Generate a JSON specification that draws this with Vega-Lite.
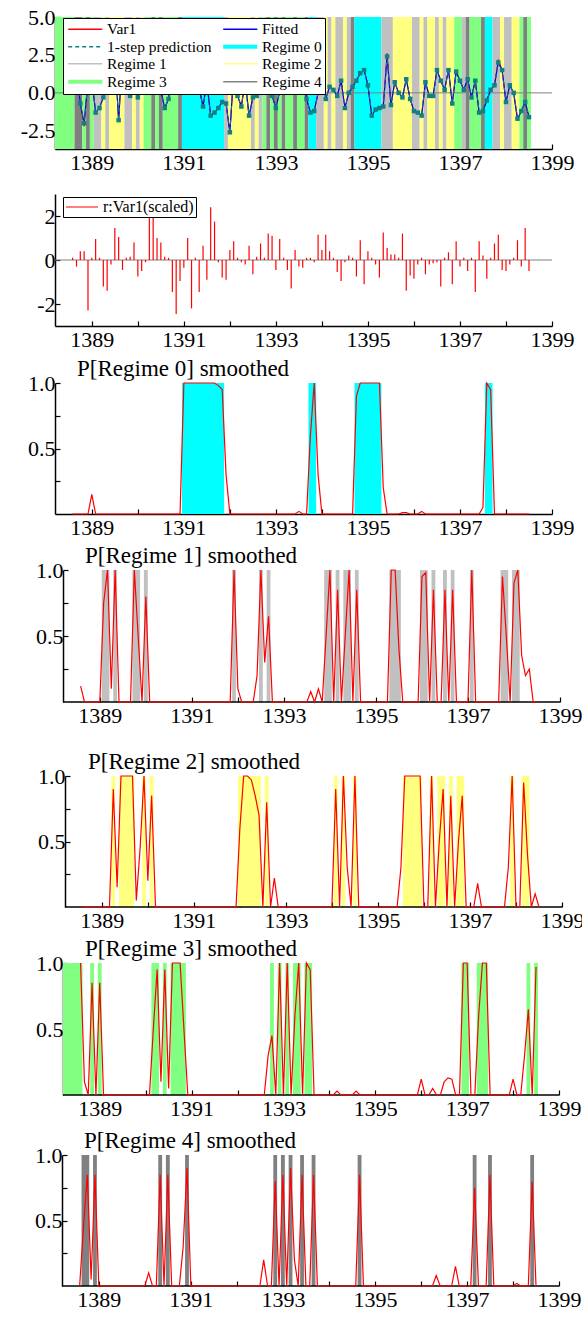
{
"$schema": "https://vega.github.io/schema/vega-lite/v6.json",
"padding": {"left": 0, "top": 6, "right": 0, "bottom": 0},
"background": "white",
"config": {
 "view": {"stroke": null},
 "font": "Liberation Serif",
 "axis": {"grid": false, "labelFont": "Liberation Serif", "labelFontSize": 22, "labelColor": "black", "domainColor": "black", "domainWidth": 1.5, "tickColor": "black", "tickWidth": 1.2, "tickSize": -5, "labelOverlap": false, "labelFlush": false, "labelBound": false},
 "axisX": {"labelPadding": 8},
 "axisY": {"labelPadding": 5},
 "title": {"anchor": "start", "frame": "group", "dx": 22, "offset": -9, "baseline": "bottom", "fontSize": 23, "fontWeight": "normal", "font": "Liberation Serif", "color": "black"}
},
"datasets": {
"obs": [
{"t":1388.583,"y":0.7,"f":0.7,"r":0.1,"p0":0,"p1":0.12,"p2":0,"p3":1,"p4":0},
{"t":1388.667,"y":1.6,"f":1.5,"r":-0.3,"p0":0,"p1":0,"p2":0,"p3":0.1,"p4":0.45},
{"t":1388.75,"y":-0.8,"f":-0.7,"r":0.4,"p0":0,"p1":0,"p2":0,"p3":0,"p4":0.85},
{"t":1388.833,"y":-2.2,"f":-2.0,"r":0.4,"p0":0,"p1":0,"p2":0,"p3":0.85,"p4":0.05},
{"t":1388.917,"y":0.8,"f":0.8,"r":-2.3,"p0":0,"p1":0,"p2":0,"p3":0,"p4":0.85},
{"t":1389,"y":0.9,"f":0.9,"r":0.1,"p0":0.15,"p1":0,"p2":0,"p3":0.85,"p4":0},
{"t":1389.083,"y":-1.3,"f":-1.3,"r":0.95,"p0":0,"p1":0.75,"p2":0,"p3":0,"p4":0},
{"t":1389.167,"y":-1.0,"f":-1.0,"r":0.1,"p0":0,"p1":1,"p2":0,"p3":0,"p4":0},
{"t":1389.25,"y":-0.3,"f":-0.3,"r":-1.2,"p0":0,"p1":0.1,"p2":0.9,"p3":0,"p4":0},
{"t":1389.333,"y":0.5,"f":0.4,"r":-1.4,"p0":0,"p1":1,"p2":0.15,"p3":0,"p4":0},
{"t":1389.417,"y":3.7,"f":3.6,"r":-0.2,"p0":0,"p1":0,"p2":1,"p3":0,"p4":0},
{"t":1389.5,"y":2.6,"f":2.6,"r":1.45,"p0":0,"p1":0,"p2":1,"p3":0,"p4":0},
{"t":1389.583,"y":-1.9,"f":-1.8,"r":1.05,"p0":0,"p1":0,"p2":1,"p3":0,"p4":0},
{"t":1389.667,"y":2.7,"f":2.6,"r":-0.45,"p0":0,"p1":0,"p2":1,"p3":0,"p4":0},
{"t":1389.75,"y":0.5,"f":0.5,"r":0.1,"p0":0,"p1":1,"p2":0.05,"p3":0,"p4":0},
{"t":1389.833,"y":-0.2,"f":-0.2,"r":0.15,"p0":0,"p1":0.5,"p2":0.45,"p3":0,"p4":0},
{"t":1389.917,"y":0.6,"f":0.6,"r":0.8,"p0":0,"p1":0,"p2":1,"p3":0,"p4":0},
{"t":1390,"y":-0.3,"f":-0.3,"r":-0.75,"p0":0,"p1":0.8,"p2":0.2,"p3":0,"p4":0},
{"t":1390.083,"y":0.8,"f":0.8,"r":-0.5,"p0":0,"p1":0,"p2":0.85,"p3":0,"p4":0.1},
{"t":1390.167,"y":1.3,"f":1.3,"r":-0.1,"p0":0,"p1":0,"p2":0,"p3":0.5,"p4":0},
{"t":1390.25,"y":1.4,"f":1.4,"r":2.0,"p0":0,"p1":0,"p2":0,"p3":0.95,"p4":0},
{"t":1390.333,"y":1.3,"f":1.3,"r":2.3,"p0":0,"p1":0,"p2":0,"p3":0.1,"p4":0.85},
{"t":1390.417,"y":0.6,"f":0.6,"r":1.0,"p0":0,"p1":0,"p2":0,"p3":0.95,"p4":0},
{"t":1390.5,"y":0.2,"f":0.2,"r":0.8,"p0":0,"p1":0,"p2":0,"p3":0.05,"p4":0.85},
{"t":1390.583,"y":-1.1,"f":-1.0,"r":0.15,"p0":0,"p1":0,"p2":0,"p3":1,"p4":0},
{"t":1390.667,"y":-0.4,"f":-0.4,"r":0.1,"p0":0,"p1":0,"p2":0,"p3":1,"p4":0},
{"t":1390.75,"y":1.4,"f":1.4,"r":-1.45,"p0":0,"p1":0,"p2":0,"p3":1,"p4":0},
{"t":1390.833,"y":1.2,"f":1.2,"r":-2.45,"p0":0,"p1":0,"p2":0,"p3":0.5,"p4":0.3},
{"t":1390.917,"y":1.6,"f":1.6,"r":-0.95,"p0":0,"p1":0,"p2":0,"p3":0,"p4":0.9},
{"t":1391,"y":0.4,"f":0.4,"r":-0.35,"p0":1,"p1":0,"p2":0,"p3":0,"p4":0},
{"t":1391.083,"y":0.9,"f":0.9,"r":1.0,"p0":1,"p1":0,"p2":0,"p3":0,"p4":0},
{"t":1391.167,"y":0.9,"f":0.9,"r":-2.2,"p0":1,"p1":0,"p2":0,"p3":0,"p4":0},
{"t":1391.25,"y":0.1,"f":0.1,"r":0.1,"p0":1,"p1":0,"p2":0,"p3":0,"p4":0},
{"t":1391.333,"y":0.3,"f":0.3,"r":-1.45,"p0":1,"p1":0,"p2":0,"p3":0,"p4":0},
{"t":1391.417,"y":-0.9,"f":-0.9,"r":0.65,"p0":1,"p1":0,"p2":0,"p3":0,"p4":0},
{"t":1391.5,"y":0.7,"f":0.7,"r":-0.9,"p0":1,"p1":0,"p2":0,"p3":0,"p4":0},
{"t":1391.583,"y":-1.5,"f":-1.5,"r":2.4,"p0":1,"p1":0,"p2":0,"p3":0,"p4":0},
{"t":1391.667,"y":-1.3,"f":-1.3,"r":1.75,"p0":1,"p1":0,"p2":0,"p3":0,"p4":0},
{"t":1391.75,"y":-1.0,"f":-1.0,"r":-0.1,"p0":0.98,"p1":0,"p2":0,"p3":0,"p4":0},
{"t":1391.833,"y":-0.6,"f":-0.6,"r":-0.8,"p0":0.95,"p1":0,"p2":0,"p3":0,"p4":0},
{"t":1391.917,"y":-0.7,"f":-0.7,"r":-0.9,"p0":0.3,"p1":1,"p2":0,"p3":0,"p4":0},
{"t":1392,"y":-2.7,"f":-2.6,"r":0.45,"p0":0,"p1":0.1,"p2":0.6,"p3":0,"p4":0},
{"t":1392.083,"y":1.4,"f":1.3,"r":0.85,"p0":0,"p1":0,"p2":1,"p3":0,"p4":0},
{"t":1392.167,"y":-0.2,"f":-0.2,"r":0.1,"p0":0,"p1":0,"p2":1,"p3":0,"p4":0},
{"t":1392.25,"y":-0.9,"f":-0.9,"r":-0.1,"p0":0,"p1":0,"p2":0.97,"p3":0,"p4":0},
{"t":1392.333,"y":0.8,"f":0.8,"r":-0.2,"p0":0,"p1":0,"p2":0.85,"p3":0,"p4":0},
{"t":1392.417,"y":-1.6,"f":-1.5,"r":0.65,"p0":0,"p1":0.2,"p2":0.7,"p3":0,"p4":0},
{"t":1392.5,"y":-0.3,"f":-0.3,"r":-0.65,"p0":0,"p1":1,"p2":0,"p3":0,"p4":0},
{"t":1392.583,"y":-0.2,"f":-0.2,"r":0.15,"p0":0,"p1":0.3,"p2":0.8,"p3":0,"p4":0.2},
{"t":1392.667,"y":0.1,"f":0.1,"r":0.75,"p0":0,"p1":0.65,"p2":0,"p3":0.3,"p4":0},
{"t":1392.75,"y":0.2,"f":0.2,"r":0.1,"p0":0,"p1":0,"p2":0.22,"p3":0.45,"p4":0},
{"t":1392.833,"y":0.7,"f":0.7,"r":1.2,"p0":0,"p1":0,"p2":0,"p3":0,"p4":0.8},
{"t":1392.917,"y":-0.2,"f":-0.2,"r":1.1,"p0":0,"p1":0,"p2":0,"p3":1,"p4":0},
{"t":1393,"y":-1.0,"f":-1.0,"r":-0.45,"p0":0,"p1":0,"p2":0,"p3":0,"p4":0.85},
{"t":1393.083,"y":0.1,"f":0.1,"r":0.95,"p0":0,"p1":0,"p2":0,"p3":1,"p4":0},
{"t":1393.167,"y":0.8,"f":0.8,"r":0.1,"p0":0,"p1":0,"p2":0,"p3":0,"p4":0.9},
{"t":1393.25,"y":1.2,"f":1.2,"r":-0.45,"p0":0,"p1":0,"p2":0,"p3":0.6,"p4":0.2},
{"t":1393.333,"y":1.0,"f":1.0,"r":-1.3,"p0":0,"p1":0,"p2":0,"p3":1,"p4":0},
{"t":1393.417,"y":0.5,"f":0.5,"r":0.45,"p0":0,"p1":0,"p2":0,"p3":0,"p4":0.85},
{"t":1393.5,"y":1.0,"f":1.0,"r":-0.3,"p0":0.02,"p1":0,"p2":0,"p3":1,"p4":0},
{"t":1393.583,"y":0.8,"f":0.8,"r":-0.35,"p0":0,"p1":0.08,"p2":0,"p3":0.95,"p4":0},
{"t":1393.667,"y":-0.4,"f":-0.4,"r":0.1,"p0":0,"p1":0,"p2":0,"p3":0,"p4":0.85},
{"t":1393.75,"y":-1.3,"f":-1.3,"r":0.1,"p0":0.6,"p1":0.1,"p2":0,"p3":0,"p4":0},
{"t":1393.833,"y":-1.2,"f":-1.2,"r":-0.1,"p0":1,"p1":0,"p2":0,"p3":0,"p4":0},
{"t":1393.917,"y":0.0,"f":0.0,"r":1.15,"p0":0.3,"p1":0.5,"p2":0,"p3":0,"p4":0},
{"t":1394,"y":1.4,"f":1.4,"r":0.45,"p0":0,"p1":1,"p2":0,"p3":0,"p4":0},
{"t":1394.083,"y":-0.4,"f":-0.4,"r":1.15,"p0":0,"p1":0,"p2":0.9,"p3":0,"p4":0},
{"t":1394.167,"y":0.4,"f":0.4,"r":0.4,"p0":0,"p1":0.85,"p2":0,"p3":0.03,"p4":0},
{"t":1394.25,"y":0.2,"f":0.2,"r":0.1,"p0":0,"p1":0,"p2":1,"p3":0,"p4":0},
{"t":1394.333,"y":-0.2,"f":-0.2,"r":-0.55,"p0":0,"p1":0.5,"p2":0.3,"p3":0,"p4":0},
{"t":1394.417,"y":0.8,"f":0.8,"r":-0.95,"p0":0,"p1":1,"p2":0,"p3":0,"p4":0},
{"t":1394.5,"y":-1.0,"f":-1.0,"r":-0.1,"p0":0,"p1":0,"p2":1,"p3":0,"p4":0},
{"t":1394.583,"y":0.0,"f":0.0,"r":0.2,"p0":0,"p1":0.85,"p2":0,"p3":0.03,"p4":0},
{"t":1394.667,"y":0.4,"f":0.4,"r":0.1,"p0":0,"p1":0,"p2":0,"p3":0,"p4":0.85},
{"t":1394.75,"y":0.8,"f":0.8,"r":-0.75,"p0":0.9,"p1":0,"p2":0,"p3":0,"p4":0},
{"t":1394.833,"y":1.3,"f":1.3,"r":0.9,"p0":1,"p1":0,"p2":0,"p3":0,"p4":0},
{"t":1394.917,"y":1.5,"f":1.5,"r":-1.1,"p0":1,"p1":0,"p2":0,"p3":0,"p4":0},
{"t":1395,"y":0.5,"f":0.5,"r":0.4,"p0":1,"p1":0,"p2":0,"p3":0,"p4":0},
{"t":1395.083,"y":-1.5,"f":-1.5,"r":0.1,"p0":1,"p1":0,"p2":0,"p3":0,"p4":0},
{"t":1395.167,"y":-1.1,"f":-1.1,"r":-0.2,"p0":1,"p1":0,"p2":0,"p3":0,"p4":0},
{"t":1395.25,"y":-1.0,"f":-1.0,"r":-0.8,"p0":1,"p1":0,"p2":0,"p3":0,"p4":0},
{"t":1395.333,"y":-0.9,"f":-0.9,"r":1.25,"p0":0.2,"p1":1,"p2":0,"p3":0,"p4":0},
{"t":1395.417,"y":2.6,"f":2.4,"r":0.55,"p0":0,"p1":1,"p2":0,"p3":0,"p4":0},
{"t":1395.5,"y":-0.8,"f":-0.8,"r":0.25,"p0":0,"p1":0.4,"p2":0.3,"p3":0,"p4":0},
{"t":1395.583,"y":0.7,"f":0.7,"r":0.25,"p0":0,"p1":0,"p2":1,"p3":0,"p4":0},
{"t":1395.667,"y":0.0,"f":0.0,"r":0.1,"p0":0,"p1":0,"p2":1,"p3":0,"p4":0},
{"t":1395.75,"y":-0.3,"f":-0.3,"r":1.2,"p0":0.01,"p1":0,"p2":1,"p3":0,"p4":0},
{"t":1395.833,"y":0.9,"f":0.9,"r":-1.4,"p0":0.01,"p1":0,"p2":1,"p3":0,"p4":0},
{"t":1395.917,"y":-0.4,"f":-0.4,"r":-0.7,"p0":0,"p1":0,"p2":1,"p3":0,"p4":0},
{"t":1396,"y":-1.2,"f":-1.2,"r":-0.85,"p0":0,"p1":0.95,"p2":0,"p3":0.12,"p4":0},
{"t":1396.083,"y":-1.3,"f":-1.3,"r":-0.2,"p0":0,"p1":0.98,"p2":0,"p3":0,"p4":0},
{"t":1396.167,"y":-1.5,"f":-1.5,"r":0.1,"p0":0.02,"p1":0,"p2":1,"p3":0,"p4":0},
{"t":1396.25,"y":0.7,"f":0.7,"r":-0.65,"p0":0,"p1":0.85,"p2":0,"p3":0.05,"p4":0},
{"t":1396.333,"y":-0.2,"f":-0.2,"r":-0.2,"p0":0,"p1":0,"p2":0.5,"p3":0,"p4":0.08},
{"t":1396.417,"y":-0.2,"f":-0.2,"r":-0.15,"p0":0,"p1":0,"p2":0.9,"p3":0,"p4":0},
{"t":1396.5,"y":1.5,"f":1.5,"r":-0.1,"p0":0,"p1":0.85,"p2":0,"p3":0.1,"p4":0},
{"t":1396.583,"y":0.8,"f":0.8,"r":-1.2,"p0":0,"p1":0,"p2":0.85,"p3":0.13,"p4":0},
{"t":1396.667,"y":0.2,"f":0.2,"r":0.1,"p0":0,"p1":0.85,"p2":0,"p3":0.12,"p4":0},
{"t":1396.75,"y":1.6,"f":1.5,"r":0.35,"p0":0,"p1":0,"p2":0.5,"p3":0,"p4":0.15},
{"t":1396.833,"y":-0.7,"f":-0.7,"r":-1.1,"p0":0,"p1":0,"p2":0.85,"p3":0,"p4":0},
{"t":1396.917,"y":1.4,"f":1.4,"r":0.85,"p0":0,"p1":0,"p2":0,"p3":1,"p4":0},
{"t":1397,"y":0.8,"f":0.8,"r":-0.3,"p0":0,"p1":0,"p2":0,"p3":1,"p4":0},
{"t":1397.083,"y":0.2,"f":0.2,"r":0.1,"p0":0,"p1":1,"p2":0,"p3":0,"p4":0},
{"t":1397.167,"y":0.9,"f":0.9,"r":-0.5,"p0":0,"p1":0,"p2":0.18,"p3":0,"p4":0.75},
{"t":1397.25,"y":-0.3,"f":-0.3,"r":0.1,"p0":0,"p1":0,"p2":0,"p3":0.6,"p4":0},
{"t":1397.333,"y":0.8,"f":0.8,"r":-1.45,"p0":0,"p1":0,"p2":0,"p3":1,"p4":0},
{"t":1397.417,"y":-1.3,"f":-1.3,"r":0.85,"p0":0,"p1":0,"p2":0,"p3":1,"p4":0},
{"t":1397.5,"y":-1.2,"f":-1.2,"r":0.2,"p0":0.05,"p1":0,"p2":0,"p3":0,"p4":0.85},
{"t":1397.583,"y":-0.5,"f":-0.5,"r":-0.85,"p0":1,"p1":0,"p2":0,"p3":0,"p4":0},
{"t":1397.667,"y":0.2,"f":0.2,"r":0.1,"p0":0.95,"p1":0,"p2":0,"p3":0,"p4":0},
{"t":1397.75,"y":0.5,"f":0.5,"r":0.75,"p0":0,"p1":0.95,"p2":0,"p3":0,"p4":0},
{"t":1397.833,"y":2.2,"f":2.0,"r":1.15,"p0":0,"p1":0.5,"p2":0.3,"p3":0,"p4":0},
{"t":1397.917,"y":1.5,"f":1.5,"r":-0.45,"p0":0,"p1":0,"p2":1,"p3":0,"p4":0},
{"t":1398,"y":-0.6,"f":-0.6,"r":-0.5,"p0":0,"p1":0.9,"p2":0,"p3":0.12,"p4":0},
{"t":1398.083,"y":0.5,"f":0.5,"r":-0.2,"p0":0,"p1":1,"p2":0,"p3":0,"p4":0.02},
{"t":1398.167,"y":0.0,"f":0.0,"r":0.1,"p0":0,"p1":0.35,"p2":0.95,"p3":0,"p4":0},
{"t":1398.25,"y":-1.8,"f":-1.7,"r":0.9,"p0":0,"p1":0.2,"p2":0.4,"p3":0.3,"p4":0},
{"t":1398.333,"y":-1.2,"f":-1.2,"r":-0.3,"p0":0,"p1":0.25,"p2":0,"p3":0.65,"p4":0},
{"t":1398.417,"y":-0.6,"f":-0.6,"r":1.45,"p0":0,"p1":0,"p2":0.1,"p3":0,"p4":0.8},
{"t":1398.5,"y":-1.6,"f":-1.6,"r":-0.5,"p0":0,"p1":0,"p2":0,"p3":0.97,"p4":0}
],
"runs": [
{"s":1388.2,"e":1388.625,"reg":"Regime 3"},
{"s":1388.625,"e":1388.792,"reg":"Regime 4"},
{"s":1388.792,"e":1388.875,"reg":"Regime 3"},
{"s":1388.875,"e":1388.958,"reg":"Regime 4"},
{"s":1388.958,"e":1389.042,"reg":"Regime 3"},
{"s":1389.042,"e":1389.208,"reg":"Regime 1"},
{"s":1389.208,"e":1389.292,"reg":"Regime 2"},
{"s":1389.292,"e":1389.375,"reg":"Regime 1"},
{"s":1389.375,"e":1389.708,"reg":"Regime 2"},
{"s":1389.708,"e":1389.875,"reg":"Regime 1"},
{"s":1389.875,"e":1389.958,"reg":"Regime 2"},
{"s":1389.958,"e":1390.042,"reg":"Regime 1"},
{"s":1390.042,"e":1390.125,"reg":"Regime 2"},
{"s":1390.125,"e":1390.292,"reg":"Regime 3"},
{"s":1390.292,"e":1390.375,"reg":"Regime 4"},
{"s":1390.375,"e":1390.458,"reg":"Regime 3"},
{"s":1390.458,"e":1390.542,"reg":"Regime 4"},
{"s":1390.542,"e":1390.875,"reg":"Regime 3"},
{"s":1390.875,"e":1390.958,"reg":"Regime 4"},
{"s":1390.958,"e":1391.875,"reg":"Regime 0"},
{"s":1391.875,"e":1391.958,"reg":"Regime 1"},
{"s":1391.958,"e":1392.458,"reg":"Regime 2"},
{"s":1392.458,"e":1392.542,"reg":"Regime 1"},
{"s":1392.542,"e":1392.625,"reg":"Regime 2"},
{"s":1392.625,"e":1392.708,"reg":"Regime 1"},
{"s":1392.708,"e":1392.792,"reg":"Regime 3"},
{"s":1392.792,"e":1392.875,"reg":"Regime 4"},
{"s":1392.875,"e":1392.958,"reg":"Regime 3"},
{"s":1392.958,"e":1393.042,"reg":"Regime 4"},
{"s":1393.042,"e":1393.125,"reg":"Regime 3"},
{"s":1393.125,"e":1393.208,"reg":"Regime 4"},
{"s":1393.208,"e":1393.375,"reg":"Regime 3"},
{"s":1393.375,"e":1393.458,"reg":"Regime 4"},
{"s":1393.458,"e":1393.625,"reg":"Regime 3"},
{"s":1393.625,"e":1393.708,"reg":"Regime 4"},
{"s":1393.708,"e":1393.875,"reg":"Regime 0"},
{"s":1393.875,"e":1394.042,"reg":"Regime 1"},
{"s":1394.042,"e":1394.125,"reg":"Regime 2"},
{"s":1394.125,"e":1394.208,"reg":"Regime 1"},
{"s":1394.208,"e":1394.292,"reg":"Regime 2"},
{"s":1394.292,"e":1394.458,"reg":"Regime 1"},
{"s":1394.458,"e":1394.542,"reg":"Regime 2"},
{"s":1394.542,"e":1394.625,"reg":"Regime 1"},
{"s":1394.625,"e":1394.708,"reg":"Regime 4"},
{"s":1394.708,"e":1395.292,"reg":"Regime 0"},
{"s":1395.292,"e":1395.542,"reg":"Regime 1"},
{"s":1395.542,"e":1395.958,"reg":"Regime 2"},
{"s":1395.958,"e":1396.125,"reg":"Regime 1"},
{"s":1396.125,"e":1396.208,"reg":"Regime 2"},
{"s":1396.208,"e":1396.292,"reg":"Regime 1"},
{"s":1396.292,"e":1396.458,"reg":"Regime 2"},
{"s":1396.458,"e":1396.542,"reg":"Regime 1"},
{"s":1396.542,"e":1396.625,"reg":"Regime 2"},
{"s":1396.625,"e":1396.708,"reg":"Regime 1"},
{"s":1396.708,"e":1396.875,"reg":"Regime 2"},
{"s":1396.875,"e":1397.042,"reg":"Regime 3"},
{"s":1397.042,"e":1397.125,"reg":"Regime 1"},
{"s":1397.125,"e":1397.208,"reg":"Regime 4"},
{"s":1397.208,"e":1397.458,"reg":"Regime 3"},
{"s":1397.458,"e":1397.542,"reg":"Regime 4"},
{"s":1397.542,"e":1397.708,"reg":"Regime 0"},
{"s":1397.708,"e":1397.875,"reg":"Regime 1"},
{"s":1397.875,"e":1397.958,"reg":"Regime 2"},
{"s":1397.958,"e":1398.125,"reg":"Regime 1"},
{"s":1398.125,"e":1398.292,"reg":"Regime 2"},
{"s":1398.292,"e":1398.375,"reg":"Regime 3"},
{"s":1398.375,"e":1398.458,"reg":"Regime 4"},
{"s":1398.458,"e":1398.542,"reg":"Regime 3"}
]
},
"columns": 1,
"spacing": 0,
"bounds": "full",
"resolve": {"scale": {"color": "independent"}, "legend": {"color": "independent"}},
"concat": [
{
 "width": 497, "height": 132,
 "layer": [
  {"data": {"name": "runs"}, "mark": {"type": "rect", "strokeWidth": 0},
   "encoding": {
    "x": {"field": "s", "type": "quantitative", "scale": {"domain": [1388.2, 1399], "nice": false, "zero": false},
          "axis": {"title": null, "values": [1389,1390,1391,1392,1393,1394,1395,1396,1397,1398,1399], "labelExpr": "datum.value % 2 == 1 ? '' + datum.value : ''", "labelDx": -14, "minExtent": 45}},
    "x2": {"field": "e"},
    "y": {"datum": -3.7, "type": "quantitative", "scale": {"domain": [-3.7, 5], "nice": false, "zero": false},
          "axis": {"title": null, "values": [-2.5,-1.25,0,1.25,2.5,3.75,5], "labelExpr": "datum.value % 2.5 == 0 ? replace(format(datum.value, '.1f'), '\u2212', '-') : ''", "minExtent": 55, "maxExtent": 55}},
    "y2": {"datum": 5},
    "color": {"field": "reg", "type": "nominal",
      "scale": {"domain": ["Var1","1-step prediction","Regime 1","Regime 3","Fitted","Regime 0","Regime 2","Regime 4"], "range": ["#ff0000","#108080","#c0c0c0","#80ff80","#0000ff","#00ffff","#ffff80","#808080"]},
      "legend": {"title": null, "orient": "none", "legendX": 8, "legendY": 1, "columns": 2, "symbolType": "M-3.1,0H3.1", "symbolSize": 121, "symbolOffset": 11.5, "symbolStrokeWidth": 1.5, "rowPadding": 0, "columnPadding": 3, "labelOffset": 14, "padding": 3, "labelFont": "Liberation Serif", "labelFontSize": 15.5, "labelColor": "black", "strokeColor": "black", "fillColor": "white", "labelLimit": 300,
        "encode": {"symbols": {"update": {
          "stroke": {"signal": "{'Var1':'#ff0000','Fitted':'#0000ff','1-step prediction':'#108080','Regime 0':'#00ffff','Regime 1':'#c0c0c0','Regime 2':'#ffff80','Regime 3':'#80ff80','Regime 4':'#808080'}[datum.value]"},
          "fill": {"value": "transparent"},
          "strokeWidth": {"signal": "datum.value == 'Regime 0' || datum.value == 'Regime 3' ? 4 : 1.5"},
          "strokeDash": {"signal": "datum.value == '1-step prediction' ? [4, 3] : [1, 0]"},
          "opacity": {"value": 1}}}}}}
   }},
  {"data": {"values": [{}]}, "mark": {"type": "rule", "color": "#808080", "strokeWidth": 1}, "encoding": {"y": {"datum": 0, "type": "quantitative"}}},
  {"data": {"name": "obs"}, "mark": {"type": "line", "strokeWidth": 1}, "encoding": {"x": {"field": "t", "type": "quantitative"}, "y": {"field": "y", "type": "quantitative"}, "color": {"datum": "Var1"}}},
  {"data": {"name": "obs"}, "mark": {"type": "line", "strokeWidth": 1.2}, "encoding": {"x": {"field": "t", "type": "quantitative"}, "y": {"field": "f", "type": "quantitative"}, "color": {"datum": "Fitted"}}},
  {"data": {"name": "obs"}, "mark": {"type": "line", "strokeWidth": 1, "strokeDash": [4, 3], "point": {"shape": "square", "size": 20, "filled": true}}, "encoding": {"x": {"field": "t", "type": "quantitative"}, "y": {"field": "f", "type": "quantitative"}, "color": {"datum": "1-step prediction"}}}
 ]
},
{
 "width": 497, "height": 132,
 "layer": [
  {"data": {"values": [{}]}, "mark": {"type": "rule", "color": "#808080", "strokeWidth": 1},
   "encoding": {"y": {"datum": 0, "type": "quantitative", "scale": {"domain": [-3, 3], "nice": false, "zero": false},
     "axis": {"title": null, "values": [-2,-1,0,1,2,3], "labelExpr": "datum.value % 2 == 0 ? replace(format(datum.value, 'd'), '\u2212', '-') : ''", "minExtent": 55, "maxExtent": 55}}}},
  {"data": {"name": "obs"}, "mark": {"type": "rule", "strokeWidth": 1.2},
   "encoding": {
    "x": {"field": "t", "type": "quantitative", "scale": {"domain": [1388.2, 1399], "nice": false, "zero": false},
          "axis": {"title": null, "values": [1389,1390,1391,1392,1393,1394,1395,1396,1397,1398,1399], "labelExpr": "datum.value % 2 == 1 ? '' + datum.value : ''", "labelDx": -13, "minExtent": 32}},
    "y": {"field": "r", "type": "quantitative"},
    "y2": {"datum": 0},
    "color": {"datum": "r:Var1(scaled)", "scale": {"domain": ["r:Var1(scaled)"], "range": ["#ff0000"]},
      "legend": {"title": null, "orient": "none", "legendX": 8, "legendY": 3, "symbolType": "stroke", "symbolSize": 1024, "symbolStrokeWidth": 1.2, "clipHeight": 16, "labelOffset": 4, "padding": 2, "labelFont": "Liberation Serif", "labelFontSize": 16, "labelColor": "black", "strokeColor": "black", "fillColor": "white"}}
   }}
 ]
},
{
 "width": 497, "height": 131,
 "title": {"text": "P[Regime 0] smoothed"},
 "layer": [
  {"data": {"name": "runs"}, "transform": [{"filter": "datum.reg == 'Regime 0'"}], "mark": {"type": "rect", "color": "#00ffff", "strokeWidth": 0},
   "encoding": {
    "x": {"field": "s", "type": "quantitative", "scale": {"domain": [1388.2, 1399], "nice": false, "zero": false},
          "axis": {"title": null, "values": [1389,1390,1391,1392,1393,1394,1395,1396,1397,1398,1399], "labelExpr": "datum.value % 2 == 1 ? '' + datum.value : ''", "labelDx": -8, "minExtent": 31}},
    "x2": {"field": "e"},
    "y": {"datum": 0, "type": "quantitative", "scale": {"domain": [0, 1], "nice": false, "zero": false},
          "axis": {"title": null, "values": [0.25,0.5,0.75,1], "labelExpr": "datum.value == 0.5 || datum.value == 1 ? format(datum.value, '.1f') : ''", "minExtent": 55, "maxExtent": 55}},
    "y2": {"datum": 1}}},
  {"data": {"name": "obs"}, "mark": {"type": "line", "color": "#ff0000", "strokeWidth": 1.2}, "encoding": {"x": {"field": "t", "type": "quantitative"}, "y": {"field": "p0", "type": "quantitative"}}}
 ]
},
{
 "width": 505, "height": 132,
 "title": {"text": "P[Regime 1] smoothed", "dx": 30},
 "layer": [
  {"data": {"name": "runs"}, "transform": [{"filter": "datum.reg == 'Regime 1'"}], "mark": {"type": "rect", "color": "#c0c0c0", "strokeWidth": 0},
   "encoding": {
    "x": {"field": "s", "type": "quantitative", "scale": {"domain": [1388.026, 1399], "nice": false, "zero": false},
          "axis": {"title": null, "domain": false, "values": [1389,1390,1391,1392,1393,1394,1395,1396,1397,1398,1399], "labelExpr": "datum.value % 2 == 1 ? '' + datum.value : ''", "labelDx": 0, "minExtent": 49}},
    "x2": {"field": "e"},
    "y": {"datum": 0, "type": "quantitative", "scale": {"domain": [0, 1], "nice": false, "zero": false},
          "axis": {"title": null, "offset": -8, "values": [0.25,0.5,0.75,1], "labelExpr": "datum.value == 0.5 || datum.value == 1 ? format(datum.value, '.1f') : ''"}},
    "y2": {"datum": 1}}},
  {"data": {"values": [{}]}, "mark": {"type": "rule", "color": "black", "strokeWidth": 1.5}, "encoding": {"x": {"datum": 1388.2, "type": "quantitative"}, "x2": {"datum": 1399}, "y": {"datum": 0, "type": "quantitative"}}},
  {"data": {"name": "obs"}, "mark": {"type": "line", "color": "#ff0000", "strokeWidth": 1.2}, "encoding": {"x": {"field": "t", "type": "quantitative"}, "y": {"field": "p1", "type": "quantitative"}}}
 ]
},
{
 "width": 507, "height": 131,
 "title": {"text": "P[Regime 2] smoothed", "dx": 33},
 "layer": [
  {"data": {"name": "runs"}, "transform": [{"filter": "datum.reg == 'Regime 2'"}], "mark": {"type": "rect", "color": "#ffff80", "strokeWidth": 0},
   "encoding": {
    "x": {"field": "s", "type": "quantitative", "scale": {"domain": [1387.983, 1399], "nice": false, "zero": false},
          "axis": {"title": null, "domain": false, "values": [1389,1390,1391,1392,1393,1394,1395,1396,1397,1398,1399], "labelExpr": "datum.value % 2 == 1 ? '' + datum.value : ''", "labelDx": -4, "minExtent": 31}},
    "x2": {"field": "e"},
    "y": {"datum": 0, "type": "quantitative", "scale": {"domain": [0, 1], "nice": false, "zero": false},
          "axis": {"title": null, "offset": -10, "values": [0.25,0.5,0.75,1], "labelExpr": "datum.value == 0.5 || datum.value == 1 ? format(datum.value, '.1f') : ''"}},
    "y2": {"datum": 1}}},
  {"data": {"values": [{}]}, "mark": {"type": "rule", "color": "black", "strokeWidth": 1.5}, "encoding": {"x": {"datum": 1388.2, "type": "quantitative"}, "x2": {"datum": 1399}, "y": {"datum": 0, "type": "quantitative"}}},
  {"data": {"name": "obs"}, "mark": {"type": "line", "color": "#ff0000", "strokeWidth": 1.2}, "encoding": {"x": {"field": "t", "type": "quantitative"}, "y": {"field": "p2", "type": "quantitative"}}}
 ]
},
{
 "width": 504, "height": 132,
 "title": {"text": "P[Regime 3] smoothed", "dx": 30},
 "layer": [
  {"data": {"name": "runs"}, "transform": [{"filter": "datum.reg == 'Regime 3'"}], "mark": {"type": "rect", "color": "#80ff80", "strokeWidth": 0},
   "encoding": {
    "x": {"field": "s", "type": "quantitative", "scale": {"domain": [1388.026, 1399], "nice": false, "zero": false},
          "axis": {"title": null, "domain": false, "values": [1389,1390,1391,1392,1393,1394,1395,1396,1397,1398,1399], "labelExpr": "datum.value % 2 == 1 ? '' + datum.value : ''", "labelDx": -6, "minExtent": 35}},
    "x2": {"field": "e"},
    "y": {"datum": 0, "type": "quantitative", "scale": {"domain": [0, 1], "nice": false, "zero": false},
          "axis": {"title": null, "offset": -8, "values": [0.25,0.5,0.75,1], "labelExpr": "datum.value == 0.5 || datum.value == 1 ? format(datum.value, '.1f') : ''"}},
    "y2": {"datum": 1}}},
  {"data": {"values": [{}]}, "mark": {"type": "rule", "color": "black", "strokeWidth": 1.5}, "encoding": {"x": {"datum": 1388.2, "type": "quantitative"}, "x2": {"datum": 1399}, "y": {"datum": 0, "type": "quantitative"}}},
  {"data": {"name": "obs"}, "mark": {"type": "line", "color": "#ff0000", "strokeWidth": 1.2}, "encoding": {"x": {"field": "t", "type": "quantitative"}, "y": {"field": "p3", "type": "quantitative"}}}
 ]
},
{
 "width": 504, "height": 131,
 "title": {"text": "P[Regime 4] smoothed", "dx": 29},
 "layer": [
  {"data": {"name": "runs"}, "transform": [{"filter": "datum.reg == 'Regime 4'"}], "mark": {"type": "rect", "color": "#808080", "strokeWidth": 0},
   "encoding": {
    "x": {"field": "s", "type": "quantitative", "scale": {"domain": [1388.048, 1399], "nice": false, "zero": false},
          "axis": {"title": null, "domain": false, "values": [1389,1390,1391,1392,1393,1394,1395,1396,1397,1398,1399], "labelExpr": "datum.value % 2 == 1 ? '' + datum.value : ''", "labelDx": 0}},
    "x2": {"field": "e"},
    "y": {"datum": 0, "type": "quantitative", "scale": {"domain": [0, 1], "nice": false, "zero": false},
          "axis": {"title": null, "offset": -7, "values": [0.25,0.5,0.75,1], "labelExpr": "datum.value == 0.5 || datum.value == 1 ? format(datum.value, '.1f') : ''"}},
    "y2": {"datum": 1}}},
  {"data": {"values": [{}]}, "mark": {"type": "rule", "color": "black", "strokeWidth": 1.5}, "encoding": {"x": {"datum": 1388.2, "type": "quantitative"}, "x2": {"datum": 1399}, "y": {"datum": 0, "type": "quantitative"}}},
  {"data": {"name": "obs"}, "mark": {"type": "line", "color": "#ff0000", "strokeWidth": 1.2}, "encoding": {"x": {"field": "t", "type": "quantitative"}, "y": {"field": "p4", "type": "quantitative"}}}
 ]
}
]
}
